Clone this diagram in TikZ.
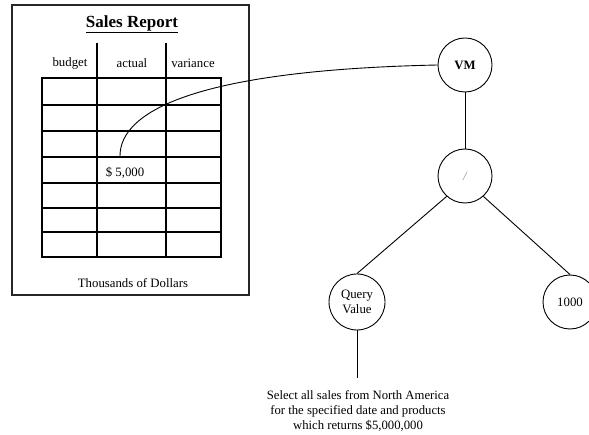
\documentclass[tikz,border=0pt]{standalone}
\usepackage{fontspec}
\setmainfont{Liberation Serif}
\begin{document}
\begin{tikzpicture}[x=1pt,y=-1pt,
  txt/.style={font=\fontsize{12.8}{15}\selectfont, inner sep=0pt},
  op/.style={circle, draw, line width=0.9pt, minimum size=54pt, inner sep=0pt,
             font=\fontsize{12.8}{14}\selectfont},
  link/.style={line width=0.9pt},
  grid/.style={line width=1.1pt}]
\useasboundingbox (0,0) rectangle (589,435);

% report sheet
\draw[line width=1.5pt, black!85] (12,5) rectangle (249,295);
\node[font=\fontsize{17}{20}\selectfont\bfseries, inner sep=0pt] (title) at (132,24) {\underline{Sales Report}};

% column headings
\node[txt] (hbud) at (70,63) {budget};
\node[txt] (hact) at (132,63) {actual};
\node[txt] (hvar) at (193,63) {variance};

% table grid
\draw[grid] (42,78) rectangle (221,257);
\foreach \y in {105,131,157,183,208,232} \draw[grid] (42,\y) -- (221,\y);
\foreach \x in {97,166} \draw[grid] (\x,43) -- (\x,257);

\node[txt] (amt) at (125,173) {\$ 5,000};
\node[txt] (unit) at (133,283) {Thousands of Dollars};

% expression tree
\node[op, font=\fontsize{12.8}{14}\selectfont\bfseries] (vm) at (465,65) {VM};
\node[op, text=black!45] (div) at (465,176) {\itshape /};
\node[op, minimum size=56pt, align=center, font=\fontsize{12.8}{15}\selectfont] (qv) at (357,302) {Query\\Value};
\node[op] (k) at (570,302) {1000};

\coordinate (cell) at (120,156);
\draw[link] (cell) .. controls (120,110) and (200,70) .. (vm.west);
\draw[link] (vm.south) -- (div.north);
\draw[link] (div.-132) -- (qv.north);
\draw[link] (div.-48) -- (k.north);

\coordinate (qend) at (357,378);
\draw[link] (qv.south) -- (qend);
\node[txt, align=center, anchor=north, font=\fontsize{12.7}{15.2}\selectfont] (desc) at (358,390)
  {Select all sales from North America\\for the specified date and products\\which returns \$5,000,000};
\end{tikzpicture}
\end{document}
